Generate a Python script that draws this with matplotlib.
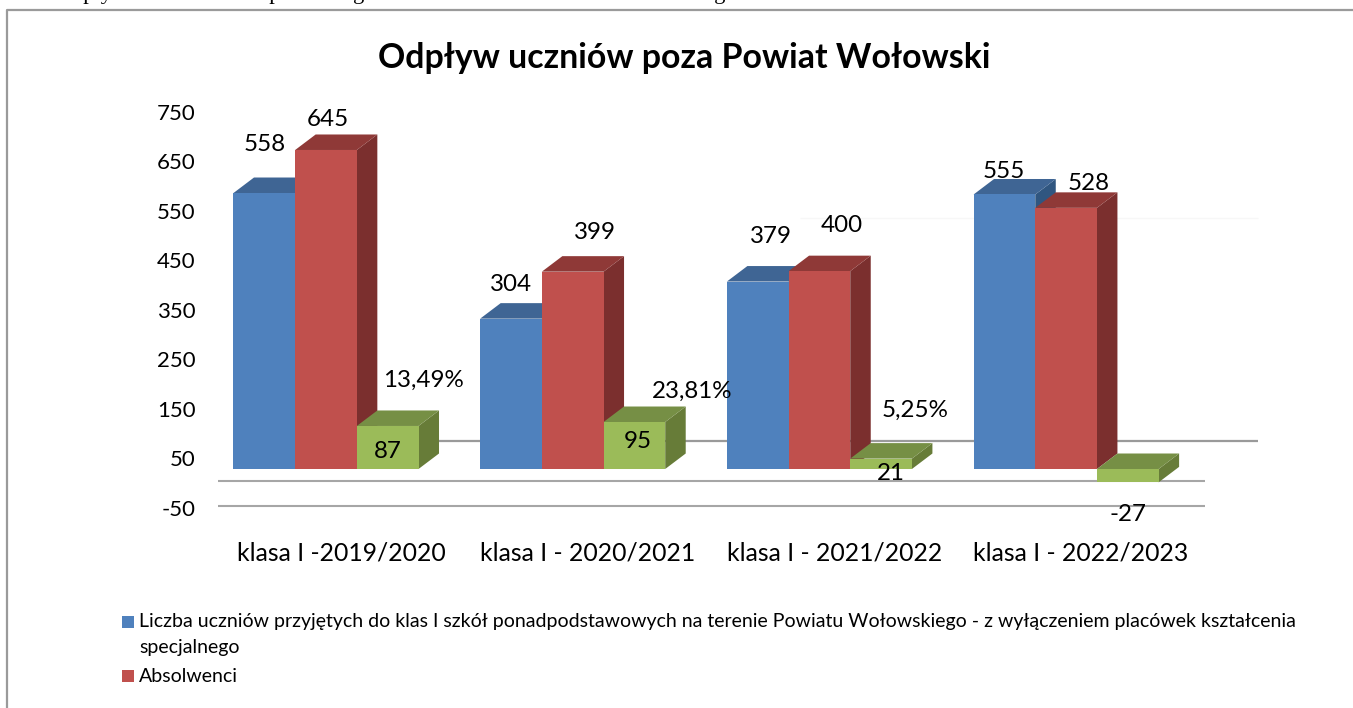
import numpy as np
import matplotlib.pyplot as plt
from matplotlib.lines import Line2D
from matplotlib.patches import Polygon, Rectangle

plt.rcParams['font.family'] = ['Lato', 'DejaVu Sans']

W, H = 1353, 708

# dane
kategorie = ['klasa I -2019/2020', 'klasa I - 2020/2021', 'klasa I - 2021/2022', 'klasa I - 2022/2023']
przyjeci = [558, 304, 379, 555]
absolwenci = [645, 399, 400, 528]
roznica = [87, 95, 21, -27]
procenty = ['13,49%', '23,81%', '5,25%', None]
os_y = [-50, 50, 150, 250, 350, 450, 550, 650, 750]
legenda_1 = ['Liczba uczniów przyjętych do klas I szkół ponadpodstawowych na terenie Powiatu Wołowskiego - z wyłączeniem placówek kształcenia',
             'specjalnego']
legenda_2 = 'Absolwenci'

# skala osi w pikselach
px_kat = 246.7
px_jedn = 0.4946
x0_px, y0_px = 326, 469
szer = 0.25
gl_x = 20.5 / px_kat
gl_y = 15.5 / px_jedn
os_lewo, os_prawo, os_gora, os_dol = 200, 1270, 100, 530

kolory = {
    'b': ('#4F81BD', '#3F6594', '#305680'),
    'r': ('#C0504D', '#8F3937', '#7B2F2E'),
    'g': ('#9BBB59', '#768F45', '#677C38'),
}

fig = plt.figure(figsize=(W / 100, H / 100), dpi=100)
fig.patch.set_facecolor('white')
ax = fig.add_axes([os_lewo / W, 1 - os_dol / H, (os_prawo - os_lewo) / W, (os_dol - os_gora) / H])
ax.set_xlim((os_lewo - x0_px) / px_kat, (os_prawo - x0_px) / px_kat)
ax.set_ylim((y0_px - os_dol) / px_jedn, (y0_px - os_gora) / px_jedn)
for s in ax.spines.values():
    s.set_visible(False)


def px_x(p):
    return (p - x0_px) / px_kat


def px_y(p):
    return (y0_px - p) / px_jedn


# linie siatki z tylu
ax.hlines(px_y(441), px_x(430), px_x(1258), color='#9A9A9A', lw=1.6, zorder=1, clip_on=False)
ax.hlines(px_y(481), px_x(218), px_x(1205), color='#A6A6A6', lw=1.5, zorder=1)
ax.hlines(px_y(506), px_x(218), px_x(1205), color='#A6A6A6', lw=1.5, zorder=1)
ax.hlines(px_y(218), px_x(800), px_x(1258), color='#F7F7F7', lw=1, zorder=1)


def slupek(x, v, kol, z):
    przod, gora, bok = kol
    g = max(v, 0)
    d = min(v, 0)
    l = x - szer / 2
    p = x + szer / 2
    ax.add_patch(Polygon([(p, d), (p + gl_x, d + gl_y), (p + gl_x, g + gl_y), (p, g)], fc=bok, ec='none', zorder=z))
    ax.add_patch(Polygon([(l, g), (l + gl_x, g + gl_y), (p + gl_x, g + gl_y), (p, g)], fc=gora, ec='none', zorder=z))
    ax.bar(x, v, szer, color=przod, zorder=z + 0.1)


x = np.arange(len(kategorie))
z = 2
for i in x:
    slupek(i - szer, przyjeci[i], kolory['b'], z)
    slupek(i, absolwenci[i], kolory['r'], z + 1)
    slupek(i + szer, roznica[i], kolory['g'], z + 2)
    z += 3

# etykiety danych, przesuniecia w pikselach jak na oryginale
przes_b = [(0, 49), (0, 34), (13, 45.5), (-1, 23)]
przes_r = [(2, 30), (22, 39), (22, 46), (23, 24)]
przes_g = [(0, -26), (3, -19), (10, -15), (0, -32)]
przes_p = [(36, 46), (58, 31), (34, 48)]
fs = 17.4


def etykieta(tekst, x_, y_, d):
    ax.annotate(tekst, (x_, y_), xytext=d, textcoords='offset pixels', ha='center', va='center',
                fontsize=fs, color='black', zorder=30, annotation_clip=False)


for i in x:
    etykieta(str(przyjeci[i]), i - szer, przyjeci[i], przes_b[i])
    etykieta(str(absolwenci[i]), i, absolwenci[i], przes_r[i])
    etykieta(str(roznica[i]), i + szer, roznica[i], przes_g[i])
    if procenty[i]:
        etykieta(procenty[i], i + szer, roznica[i], przes_p[i])

# opisy osi przesuniete o glebokosc wykresu
ax.set_yticks(np.array(os_y) - 28, [str(v) for v in os_y])
ax.set_xticks(x + 15 / px_kat, kategorie)
ax.tick_params(axis='y', length=0, pad=3, labelsize=16, colors='black')
ax.tick_params(axis='x', length=0, pad=8.5, labelsize=17.8, colors='black')

fig.text(684.5 / W, 1 - 58 / H, 'Odpływ uczniów poza Powiat Wołowski', ha='center', va='center',
         fontsize=24.4, fontweight='bold', color='black')

# legenda
for kol, yy in [(kolory['b'][0], 622), (kolory['r'][0], 676)]:
    fig.add_artist(Rectangle((122 / W, 1 - (yy + 6) / H), 12 / W, 12 / H, fc=kol, ec='none', transform=fig.transFigure))
fig.text(139 / W, 1 - 622 / H, legenda_1[0], va='center', fontsize=14, color='black')
fig.text(139 / W, 1 - 648 / H, legenda_1[1], va='center', fontsize=14, color='black')
fig.text(139 / W, 1 - 676 / H, legenda_2, va='center', fontsize=14, color='black')

# ramka wykresu
fig.add_artist(Line2D([7 / W, 7 / W, 1], [0, 1 - 10 / H, 1 - 10 / H], color='#9A9A9A', lw=1.6))

# ucieta linia tekstu nad wykresem
fig.text(56 / W, 1 + 0.6 / H, 'Odpływ uczniów szkół poza', family=['Liberation Serif'], fontsize=16.2,
         va='baseline', color='black', clip_on=False)
fig.text(353 / W, 1 + 0.6 / H, 'granice miasta oraz Powiatu Wołowskiego', family=['Liberation Serif'], fontsize=16.2,
         va='baseline', color='black', clip_on=False)

fig.savefig('out.png', dpi=100)
